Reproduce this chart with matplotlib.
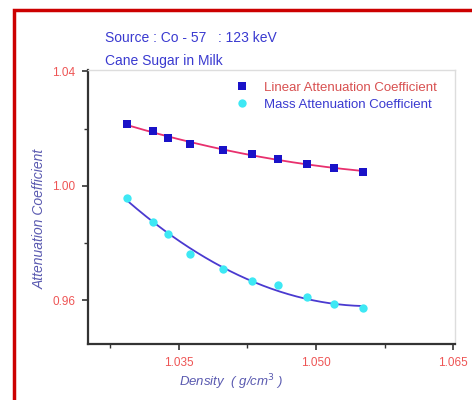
import numpy as np
import matplotlib
matplotlib.use('Agg')
import matplotlib.pyplot as plt
from matplotlib.patches import Rectangle
from matplotlib.ticker import MultipleLocator

# Density (g/cm^3) and coefficients
density = [1.0294, 1.0322, 1.0338, 1.0363, 1.0399, 1.0430, 1.0459, 1.0490, 1.0520, 1.0551]
linear_coef = [1.0216, 1.0191, 1.0167, 1.0146, 1.0125, 1.0111, 1.0094, 1.0077, 1.0063, 1.0049]
mass_coef = [0.9958, 0.9875, 0.9833, 0.9763, 0.9708, 0.9666, 0.9652, 0.9610, 0.9586, 0.9572]

x_ticks = [1.035, 1.050, 1.065]
y_ticks = [0.96, 1.00, 1.04]

plt.rcParams['font.family'] = ['Liberation Sans', 'DejaVu Sans']

fig = plt.figure(figsize=(4.72, 4.0), dpi=100)
ax = fig.add_axes([0.1864, 0.14, 0.7776, 0.685])

x = np.array(density)
xs = np.linspace(x.min(), x.max(), 200)

# fitted curves
p_lin = np.polyfit(x, linear_coef, 2)
p_mass = np.polyfit(x, mass_coef, 2)
ax.plot(xs, np.polyval(p_lin, xs), color='#e8306e', lw=1.3, zorder=2)
ax.plot(xs, np.polyval(p_mass, xs), color='#4a3ad0', lw=1.3, zorder=2)

ax.plot(x, linear_coef, 's', color='#1a12c8', ms=5.5, mew=0, ls='none', zorder=3,
        label='Linear Attenuation Coefficient')
ax.plot(x, mass_coef, 'o', color='#3ee8f4', ms=6, mew=0, ls='none', zorder=3,
        label='Mass Attenuation Coefficient')

ax.set_xlim(1.0251, 1.0652)
ax.set_ylim(0.9447, 1.0405)
ax.set_xticks(x_ticks)
ax.set_yticks(y_ticks)
ax.xaxis.set_minor_locator(MultipleLocator(0.0075))
ax.yaxis.set_minor_locator(MultipleLocator(0.02))
ax.set_xticklabels(['%.3f' % v for v in x_ticks])
ax.set_yticklabels(['%.2f' % v for v in y_ticks])
ax.tick_params(which='major', length=4, width=1.2, colors='#333333',
               labelcolor='#ee5555', labelsize=8.5, pad=5)
ax.tick_params(which='minor', length=3, width=1.0, colors='#333333')

for s in ['left', 'bottom']:
    ax.spines[s].set_linewidth(1.6)
    ax.spines[s].set_color('#333333')
for s in ['top', 'right']:
    ax.spines[s].set_linewidth(1.0)
    ax.spines[s].set_color('#dddddd')

ax.set_xlabel('Density  ( g/cm$^3$ )', color='#5a5ab0', style='italic', fontsize=9.5)
ax.set_ylabel('Attenuation Coefficient', color='#5a5ab0', style='italic', fontsize=10)
ax.xaxis.set_label_coords(0.39, -0.139)
ax.yaxis.set_label_coords(-0.131, 0.456)
ax.xaxis.label.set_va('center')
ax.yaxis.label.set_va('center')

leg = ax.legend(loc='upper left', bbox_to_anchor=(0.403, 0.958), frameon=False,
                fontsize=9.5, handlelength=1.0, handletextpad=1.1,
                borderpad=0, borderaxespad=0, labelspacing=0.35)
leg.get_texts()[0].set_color('#d85050')
leg.get_texts()[1].set_color('#3a3ad0')

fig.text(105 / 472, 1 - 38 / 400, 'Source : Co - 57   : 123 keV', color='#3a3ad0',
         fontsize=10, va='center')
fig.text(105 / 472, 1 - 61 / 400, 'Cane Sugar in Milk', color='#3a3ad0',
         fontsize=10, va='center')

# red frame around the picture
fig.patches.append(Rectangle((14 / 472, -0.05), 1.0, 1 - 10 / 400 + 0.05,
                             transform=fig.transFigure, fill=False,
                             edgecolor='#cc0000', lw=2.5))

fig.savefig('out.png', dpi=100)
